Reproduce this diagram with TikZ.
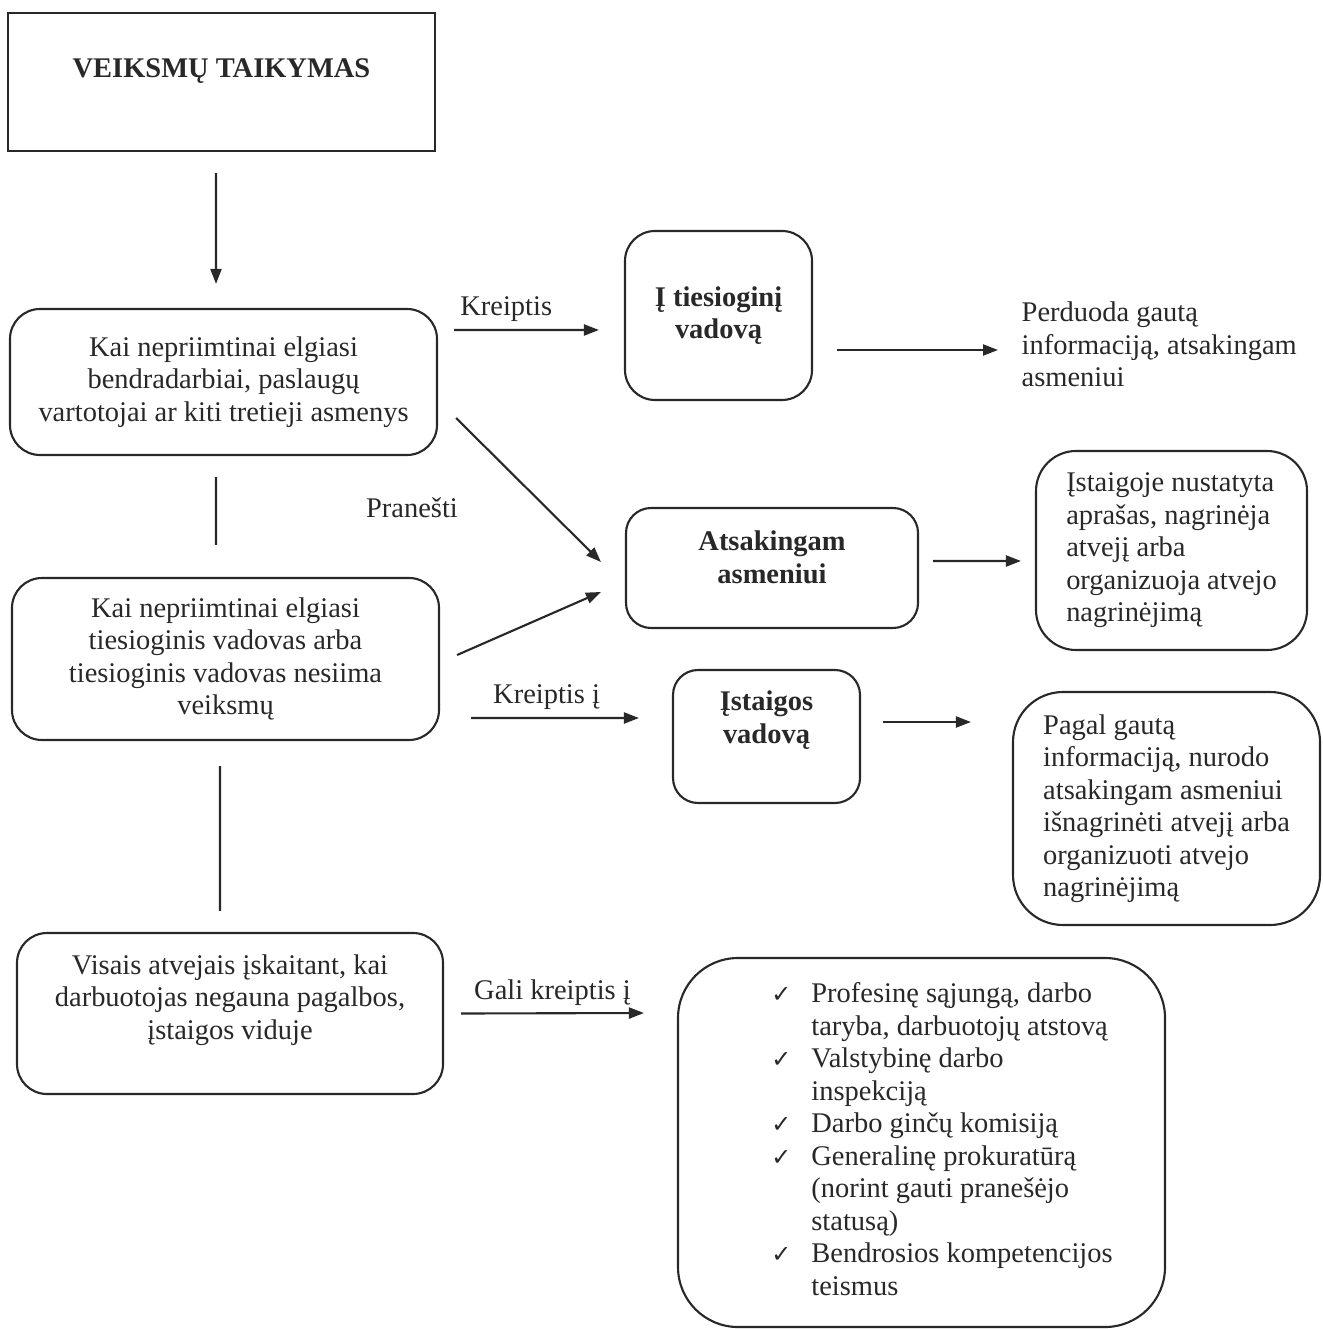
\documentclass[tikz,border=0pt]{standalone}
\usepackage{fontspec}
\setmainfont{Liberation Serif}
\newfontfamily\symfont{DejaVu Sans}
\usetikzlibrary{arrows.meta,positioning}
\definecolor{ink}{RGB}{40,40,40}
\newcommand{\chk}{{\symfont\fontsize{6.8}{9.25}\selectfont ✓}}

\begin{document}
\begin{tikzpicture}[font=\fontsize{8.1}{9.25}\selectfont,>={Triangle[length=0.15cm,width=0.11cm]},
  box/.style={draw=ink,line width=0.6pt,rounded corners=#1,align=center,text=ink,inner sep=0pt},
  box/.default=0.3cm,
  txt/.style={text=ink,align=center,inner sep=0pt},
  arr/.style={->,draw=ink,line width=0.6pt},
  lbl/.style={text=ink,inner sep=2pt}]
  \useasboundingbox (0,0) rectangle (13.22,-13.29);
  % left column
  \node[draw=ink,line width=0.6pt,minimum width=4.27cm,minimum height=1.38cm] (top) at (2.215,-0.82) {};
  \node[txt,font=\fontsize{8.1}{9.25}\selectfont\bfseries] (toptxt) at ([yshift=0.11cm]top.center) {VEIKSMŲ TAIKYMAS};
  \node[box,minimum width=4.27cm,minimum height=1.46cm] (A) at (2.235,-3.82)
    {Kai nepriimtinai elgiasi\\ bendradarbiai, paslaugų\\ vartotojai ar kiti tretieji asmenys};
  \node[box,minimum width=4.27cm,minimum height=1.62cm] (B) at (2.255,-6.59)
    {Kai nepriimtinai elgiasi\\ tiesioginis vadovas arba\\ tiesioginis vadovas nesiima\\ veiksmų};
  \node[box,minimum width=4.26cm,minimum height=1.61cm] (C) at (2.30,-10.135) {};
  \node[txt] (Ctxt) at ([yshift=0.135cm]C.center)
    {Visais atvejais įskaitant, kai\\ darbuotojas negauna pagalbos,\\ įstaigos viduje};
  % middle column
  \node[box,minimum width=1.87cm,minimum height=1.69cm,font=\fontsize{8.1}{9.25}\selectfont\bfseries] (D) at (7.185,-3.155)
    {Į tiesioginį\\ vadovą};
  \node[box=0.25cm,minimum width=2.92cm,minimum height=1.20cm] (E) at (7.72,-5.68) {};
  \node[txt,font=\fontsize{8.1}{9.25}\selectfont\bfseries] (Etxt) at ([yshift=0.105cm]E.center) {Atsakingam\\ asmeniui};
  \node[box=0.25cm,minimum width=1.87cm,minimum height=1.33cm] (G) at (7.665,-7.365) {};
  \node[txt,font=\fontsize{8.1}{9.25}\selectfont\bfseries] (Gtxt) at ([yshift=0.165cm]G.center) {Įstaigos\\ vadovą};
  \node[box=0.6cm,minimum width=4.87cm,minimum height=3.69cm] (I) at (9.215,-11.425) {%
    \begin{tabular}{@{\hspace{0.41cm}}c@{\hspace{0.2cm}}l@{}}
      \chk & Profesinę sąjungą, darbo\\
           & taryba, darbuotojų atstovą\\
      \chk & Valstybinę darbo\\
           & inspekciją\\
      \chk & Darbo ginčų komisiją\\
      \chk & Generalinę prokuratūrą\\
           & (norint gauti pranešėjo\\
           & statusą)\\
      \chk & Bendrosios kompetencijos\\
           & teismus
    \end{tabular}};
  % right column
  \node[txt,align=left,anchor=west] (perd) at (10.21,-3.445)
    {Perduoda gautą\\ informaciją, atsakingam\\ asmeniui};
  \node[box=0.4cm,minimum width=2.71cm,minimum height=1.99cm,align=left] (F) at (11.715,-5.505)
    {Įstaigoje nustatyta\\ aprašas, nagrinėja\\ atvejį arba\\ organizuoja atvejo\\ nagrinėjimą};
  \node[box=0.5cm,minimum width=3.07cm,minimum height=2.33cm,align=left] (H) at (11.665,-8.085)
    {Pagal gautą\\ informaciją, nurodo\\ atsakingam asmeniui\\ išnagrinėti atvejį arba\\ organizuoti atvejo\\ nagrinėjimą};
  \node[lbl] (pran) at (4.12,-5.08) {Pranešti};
  % connectors
  \draw[arr] ([shift={(-0.055,-0.21)}]top.south) -- ([shift={(-0.075,0.24)}]A.north);
  \draw[draw=ink,line width=0.6pt] ([shift={(-0.075,-0.21)}]A.south) -- ([shift={(-0.095,0.32)}]B.north);
  \draw[draw=ink,line width=0.6pt] ([shift={(-0.055,-0.25)}]B.south) -- ([shift={(-0.10,0.21)}]C.north);
  \draw[arr] ([shift={(0.16,0.52)}]A.east) -- node[lbl,above,pos=0.36] {Kreiptis} ([shift={(-0.25,-0.145)}]D.west);
  \draw[arr] ([shift={(0.24,-0.345)}]D.east) -- ([shift={(-0.23,-0.055)}]perd.west);
  \draw[arr] ([shift={(0.18,-0.36)}]A.east) -- ([shift={(-0.24,0.06)}]E.west);
  \draw[arr] ([shift={(0.17,0.04)}]B.east) -- ([shift={(-0.24,-0.24)}]E.west);
  \draw[arr] ([shift={(0.14,0.07)}]E.east) -- ([shift={(-0.14,-0.105)}]F.west);
  \draw[arr] ([shift={(0.31,-0.59)}]B.east) -- node[lbl,above,pos=0.45] {Kreiptis į} ([shift={(-0.33,0.185)}]G.west);
  \draw[arr] ([shift={(0.22,0.145)}]G.east) -- ([shift={(-0.41,0.865)}]H.west);
  \draw[arr] ([shift={(0.17,0)}]C.east) -- node[lbl,above,pos=0.5] {Gali kreiptis į} ([shift={(-0.33,1.295)}]I.west);
\end{tikzpicture}
\end{document}
